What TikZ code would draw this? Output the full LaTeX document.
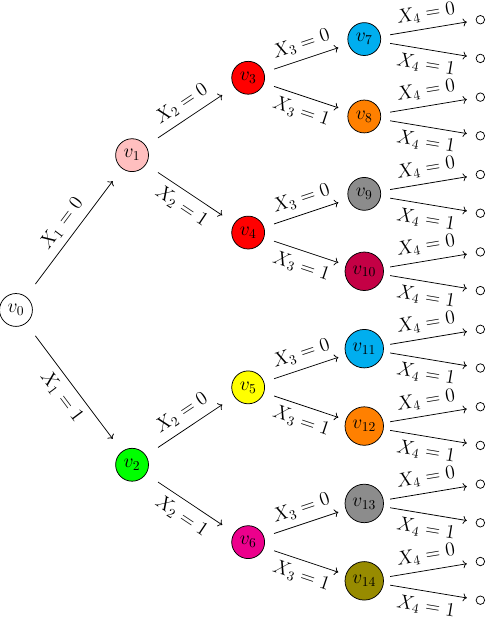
\documentclass[tikz,border=0pt]{standalone}
\usepackage{amsmath,amssymb}
\usepackage{tikz}
\usetikzlibrary{calc,arrows.meta}

\definecolor{vpink}{HTML}{FFBFBF}
\definecolor{vgreen}{HTML}{00FF00}
\definecolor{vred}{HTML}{FF0000}
\definecolor{vyellow}{HTML}{FFFF00}
\definecolor{vmagenta}{HTML}{EC008C}
\definecolor{vcyan}{HTML}{00AEEF}
\definecolor{vorange}{HTML}{FF8000}
\definecolor{vgray}{HTML}{8C8C8C}
\definecolor{vpurple}{HTML}{C40045}
\definecolor{volive}{HTML}{978B00}

\begin{document}
\begin{tikzpicture}[font=\Large, line width=0.55pt,
        vnode/.style 2 args={minimum size=1.32cm, inner sep=0pt,
            label={[draw,circle,inner sep=0.3333em,fill=#1]center:#2}},
        leafnode/.style={minimum size=0.68cm, inner sep=0pt,
            path picture={\draw (path picture bounding box.center) circle (0.11cm);}},
        branch/.style={->},
        up/.style={above,sloped,inner sep=5pt},
        down/.style={below,sloped,inner sep=5pt}]
        \useasboundingbox (-0.413,-7.96) rectangle (12.196,8.01);

        % корінь і перший рівень
        \node[vnode={white}{$v_0$}] (v0) at (0,0) {};
        \node[vnode={vpink}{$v_1$}] (v1) at (3,4) {};
        \node[vnode={vgreen}{$v_2$}] (v2) at (3,-4) {};

        % другий рівень
        \node[vnode={vred}{$v_3$}] (v3) at (6,6) {};
        \node[vnode={vred}{$v_4$}] (v4) at (6,2) {};
        \node[vnode={vyellow}{$v_5$}] (v5) at (6,-2) {};
        \node[vnode={vmagenta}{$v_6$}] (v6) at (6,-6) {};

        % третій рівень
        \node[vnode={vcyan}{$v_7$}] (v7) at (9,7) {};
        \node[vnode={vorange}{$v_8$}] (v8) at (9,5) {};
        \node[vnode={vgray}{$v_9$}] (v9) at (9,3) {};
        \node[vnode={vpurple}{$v_{10}$}] (v10) at (9,1) {};
        \node[vnode={vcyan}{$v_{11}$}] (v11) at (9,-1) {};
        \node[vnode={vorange}{$v_{12}$}] (v12) at (9,-3) {};
        \node[vnode={vgray}{$v_{13}$}] (v13) at (9,-5) {};
        \node[vnode={volive}{$v_{14}$}] (v14) at (9,-7) {};

        \draw[branch] (v0) -- node[up] {$X_1=0$} (v1);
        \draw[branch] (v0) -- node[down] {$X_1=1$} (v2);

        \draw[branch] (v1) -- node[up] {$X_2=0$} (v3);
        \draw[branch] (v1) -- node[down] {$X_2=1$} (v4);
        \draw[branch] (v2) -- node[up] {$X_2=0$} (v5);
        \draw[branch] (v2) -- node[down] {$X_2=1$} (v6);

        \draw[branch] (v3) -- node[up] {$X_3=0$} (v7);
        \draw[branch] (v3) -- node[down] {$X_3=1$} (v8);
        \draw[branch] (v4) -- node[up] {$X_3=0$} (v9);
        \draw[branch] (v4) -- node[down] {$X_3=1$} (v10);
        \draw[branch] (v5) -- node[up] {$X_3=0$} (v11);
        \draw[branch] (v5) -- node[down] {$X_3=1$} (v12);
        \draw[branch] (v6) -- node[up] {$X_3=0$} (v13);
        \draw[branch] (v6) -- node[down] {$X_3=1$} (v14);

        % листки
        \foreach \i in {7,...,14} {
            \node[leafnode] (a\i) at ($(v\i)+(3,0.5)$) {};
            \node[leafnode] (b\i) at ($(v\i)+(3,-0.5)$) {};
            \draw[branch] (v\i) -- node[up] {$X_4=0$} (a\i);
            \draw[branch] (v\i) -- node[down] {$X_4=1$} (b\i);
        }

    \end{tikzpicture}
\end{document}
